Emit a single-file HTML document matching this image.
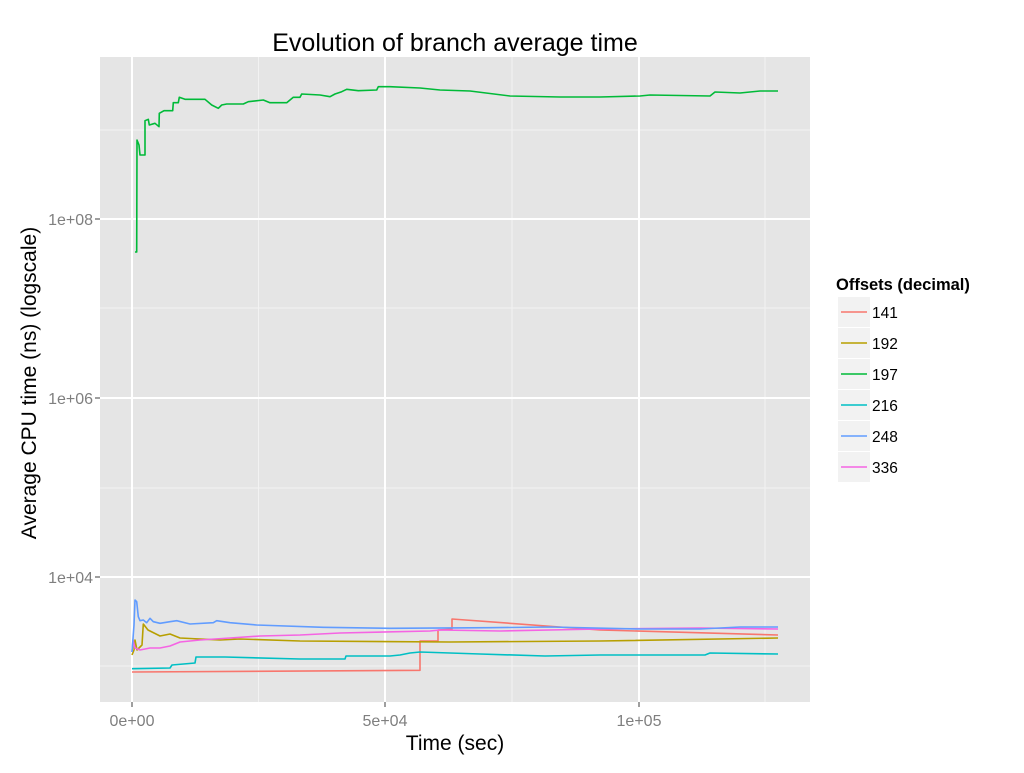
<!DOCTYPE html>
<html><head><style>body{margin:0;background:#fff;font-family:"Liberation Sans",sans-serif}</style></head><body>
<svg width="1024" height="768" xmlns="http://www.w3.org/2000/svg" font-family="Liberation Sans, sans-serif">
<rect width="1024" height="768" fill="#fff"/>
<rect x="100" y="57" width="710" height="645" fill="#e5e5e5"/>
<g stroke="#f2f2f2" stroke-width="1">
<line x1="258.5" y1="57" x2="258.5" y2="702"/><line x1="512" y1="57" x2="512" y2="702"/><line x1="765" y1="57" x2="765" y2="702"/>
<line x1="100" y1="130" x2="810" y2="130"/><line x1="100" y1="308" x2="810" y2="308"/><line x1="100" y1="488" x2="810" y2="488"/><line x1="100" y1="666" x2="810" y2="666"/>
</g>
<g stroke="#fff" stroke-width="2">
<line x1="132" y1="57" x2="132" y2="702"/><line x1="385" y1="57" x2="385" y2="702"/><line x1="639" y1="57" x2="639" y2="702"/>
<line x1="100" y1="219" x2="810" y2="219"/><line x1="100" y1="398" x2="810" y2="398"/><line x1="100" y1="577" x2="810" y2="577"/>
</g>
<g stroke="#7f7f7f" stroke-width="1.5">
<line x1="95" y1="219" x2="100" y2="219"/><line x1="95" y1="398" x2="100" y2="398"/><line x1="95" y1="577" x2="100" y2="577"/>
<line x1="132" y1="702" x2="132" y2="707"/><line x1="385" y1="702" x2="385" y2="707"/><line x1="639" y1="702" x2="639" y2="707"/>
</g>
<g font-size="16" fill="#7f7f7f" text-anchor="end">
<text x="93" y="225">1e+08</text><text x="93" y="404">1e+06</text><text x="93" y="583">1e+04</text>
</g>
<g font-size="16" fill="#7f7f7f" text-anchor="middle">
<text x="132" y="726">0e+00</text><text x="385" y="726">5e+04</text><text x="639" y="726">1e+05</text>
</g>
<text x="455" y="750" font-size="21" text-anchor="middle">Time (sec)</text>
<text transform="translate(36,383) rotate(-90)" font-size="21" text-anchor="middle">Average CPU time (ns) (logscale)</text>
<text x="455" y="51" font-size="25" text-anchor="middle">Evolution of branch average time</text>
<g fill="none" stroke-width="1.6" stroke-linejoin="round">
<polyline stroke="#00BA38" points="135,252 136.7,252 137,140 139,145 140,155 145,155 145,120.7 148.3,119.3 149.3,125 155,123.3 159,126.7 159.3,113.3 164,110.7 172.7,110.7 173.3,102.7 178.3,102.7 179.3,97.3 185,99.3 205,99.3 211.7,105 218.3,108.3 221.7,105 226.7,104 243.3,104 248.3,101.7 263.3,100 270,102.7 286.7,102.7 293.3,97.3 300,97.3 301.7,94 320,95 330,96.7 335,94 341.7,91.7 346.7,89.3 358.3,90.7 376.7,90 378.3,86.7 390,86.7 420,88 440,90 470,91 510,96 560,97 600,97 640,96 650,95 710,96 715,92 740,93 760,91 778,91"/>
<polyline stroke="#F8766D" points="132,672 420,670.3 420,641 438,641 438,630 452,629 452,619 600,630 778,635"/>
<polyline stroke="#00BFC4" points="132,668.7 170,668 172,665 195,663 196,657 225,657 300,659 345,659 346,656 390,656 400,655 410,653 420,652 480,654 545,656 600,655 705,655 710,653 778,654"/>
<polyline stroke="#B79F00" points="132,655 134,650 135,640 137,650 142,645 143.3,624 148,630 160,636 170,634 180,638 220,640 240,639 300,641 450,642 600,641 778,638"/>
<polyline stroke="#F564E3" points="132,652 133,640 135,648 140,650 150,648 160,648 170,646 180,642 200,640 230,638 260,636 300,635 340,633 430,631 440,630 500,631 600,629 700,628 778,629"/>
<polyline stroke="#619CFF" points="132,652 134,625 135,600 136.7,601.7 138.3,616.7 140,620.7 143.3,620 146.7,622.7 150,618.3 153.3,621.7 160,623.3 170,621.7 176.7,620.7 190,624 213.3,622.7 216.7,620.7 230,622.7 256.7,625 323,627.3 390,628.3 490,627.7 550,627 640,629 700,629 740,627 778,627"/>
</g>
<text x="836" y="290" font-size="16.5" font-weight="bold">Offsets (decimal)</text>
<g>
<rect x="838" y="297" width="32" height="30" fill="#f2f2f2"/><rect x="838" y="328" width="32" height="30" fill="#f2f2f2"/><rect x="838" y="359" width="32" height="30" fill="#f2f2f2"/><rect x="838" y="390" width="32" height="30" fill="#f2f2f2"/><rect x="838" y="421" width="32" height="30" fill="#f2f2f2"/><rect x="838" y="452" width="32" height="30" fill="#f2f2f2"/>
</g>
<g stroke-width="1.6">
<line x1="841" x2="867" y1="312" y2="312" stroke="#F8766D"/><line x1="841" x2="867" y1="343" y2="343" stroke="#B79F00"/><line x1="841" x2="867" y1="374" y2="374" stroke="#00BA38"/><line x1="841" x2="867" y1="405" y2="405" stroke="#00BFC4"/><line x1="841" x2="867" y1="436" y2="436" stroke="#619CFF"/><line x1="841" x2="867" y1="467" y2="467" stroke="#F564E3"/>
</g>
<g font-size="15.5">
<text x="872" y="318">141</text><text x="872" y="349">192</text><text x="872" y="380">197</text><text x="872" y="411">216</text><text x="872" y="442">248</text><text x="872" y="473">336</text>
</g>
</svg>
</body></html>
